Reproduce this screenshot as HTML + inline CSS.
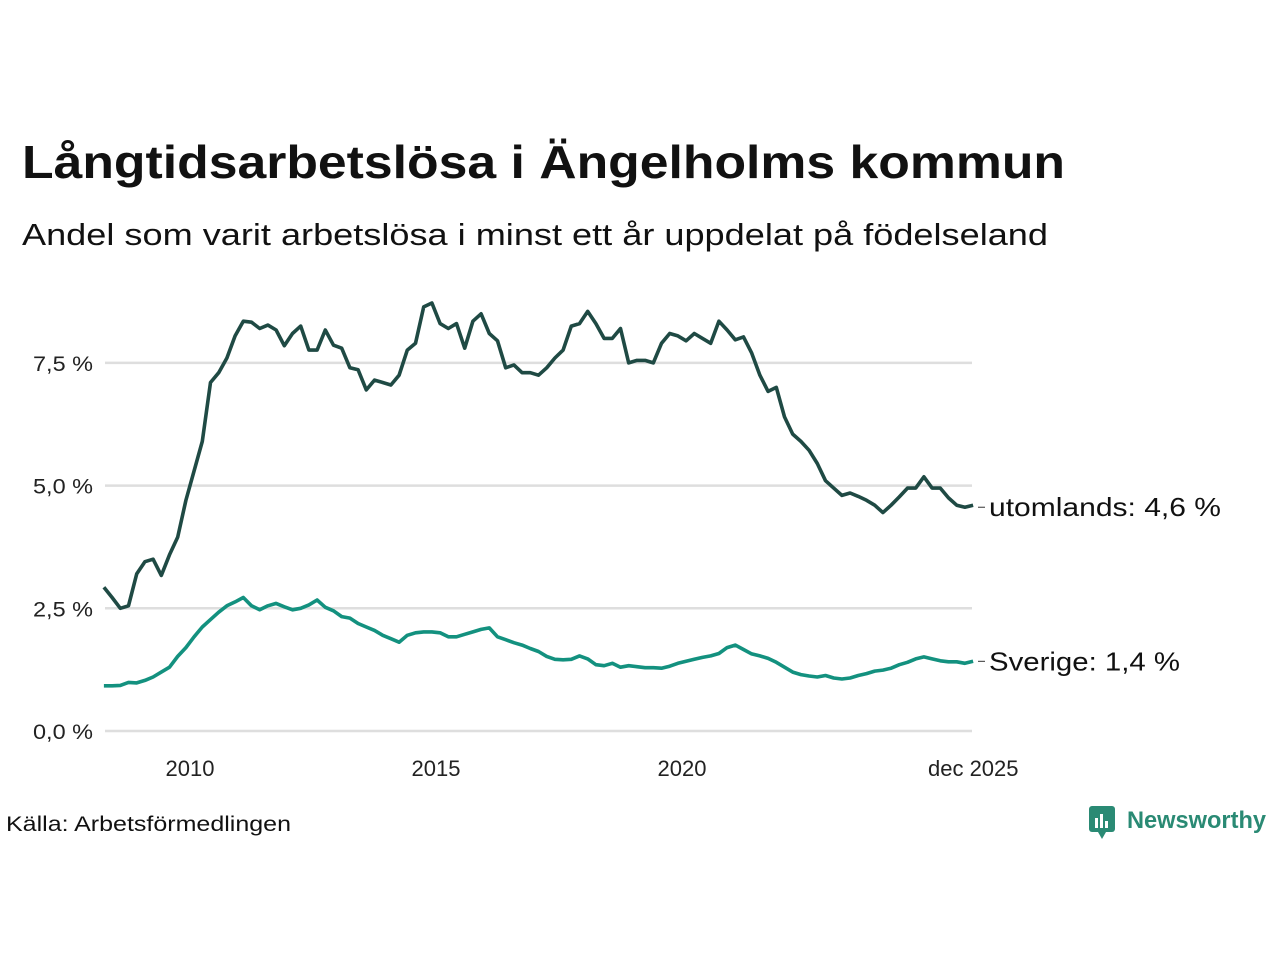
<!DOCTYPE html>
<html><head><meta charset="utf-8"><style>
body{margin:0;width:1280px;height:960px;background:#fff;font-family:"Liberation Sans",sans-serif;overflow:hidden}
</style></head><body>
<svg width="1280" height="960" font-family="Liberation Sans, DejaVu Sans, sans-serif">
<text x="22" y="178" font-size="46" font-weight="bold" fill="#111" textLength="1043" lengthAdjust="spacingAndGlyphs">Långtidsarbetslösa i Ängelholms kommun</text>
<text x="22" y="245" font-size="31" fill="#111" textLength="1026" lengthAdjust="spacingAndGlyphs">Andel som varit arbetslösa i minst ett år uppdelat på födelseland</text>
<g id="grid"></g><g id="yt"></g><g id="xt"></g><g id="lines"></g>
<text x="6" y="831" font-size="21" fill="#111" textLength="285" lengthAdjust="spacingAndGlyphs">Källa: Arbetsförmedlingen</text>
<g>
<rect x="1089" y="806" width="26" height="26" rx="3" fill="#2a8a74"/>
<polygon points="1098,832 1106,832 1102,839" fill="#2a8a74"/>
<rect x="1095" y="818" width="3" height="10" fill="#fff"/><rect x="1100" y="814" width="3" height="14" fill="#fff"/><rect x="1105" y="821" width="3" height="7" fill="#fff"/>
<text x="1127" y="828" font-size="24" font-weight="bold" fill="#2a8a74" textLength="139" lengthAdjust="spacingAndGlyphs">Newsworthy</text>
</g>
</svg>
<script>
const yTicks=[0,2.5,5,7.5];
const yTickLabels=["0,0 %","2,5 %","5,0 %","7,5 %"];
const xTicks=[2010,2015,2020,2025.92];
const xTickLabels=["2010","2015","2020","dec 2025"];
const startYear=2008.25, stepYears=2/12;
const seriesNames=["utomlands","Sverige"];
const utomlands=[2.93,2.72,2.5,2.55,3.2,3.45,3.5,3.17,3.59,3.95,4.7,5.3,5.9,7.1,7.3,7.6,8.05,8.35,8.33,8.2,8.27,8.17,7.85,8.1,8.25,7.76,7.76,8.17,7.86,7.8,7.4,7.36,6.95,7.15,7.1,7.05,7.25,7.76,7.9,8.64,8.72,8.3,8.2,8.3,7.8,8.35,8.5,8.1,7.95,7.4,7.46,7.3,7.3,7.25,7.4,7.6,7.76,8.25,8.3,8.55,8.3,8.0,8.0,8.2,7.5,7.55,7.55,7.5,7.9,8.1,8.05,7.95,8.1,8.0,7.9,8.35,8.17,7.97,8.03,7.7,7.25,6.92,7.0,6.4,6.05,5.9,5.72,5.45,5.1,4.95,4.8,4.85,4.78,4.7,4.6,4.45,4.6,4.77,4.95,4.95,5.18,4.95,4.95,4.75,4.6,4.56,4.6];
const sverige=[0.92,0.92,0.93,0.99,0.98,1.03,1.1,1.2,1.3,1.52,1.7,1.92,2.12,2.27,2.42,2.55,2.63,2.72,2.55,2.47,2.55,2.6,2.53,2.47,2.5,2.57,2.67,2.52,2.45,2.33,2.3,2.19,2.12,2.05,1.95,1.88,1.81,1.95,2.0,2.02,2.02,2.0,1.92,1.92,1.97,2.02,2.07,2.1,1.92,1.86,1.8,1.75,1.68,1.62,1.52,1.46,1.45,1.46,1.53,1.47,1.35,1.33,1.38,1.3,1.33,1.31,1.29,1.29,1.28,1.32,1.38,1.42,1.46,1.5,1.53,1.58,1.7,1.75,1.66,1.57,1.53,1.48,1.4,1.3,1.2,1.15,1.12,1.1,1.13,1.08,1.06,1.08,1.13,1.17,1.22,1.24,1.28,1.35,1.4,1.47,1.51,1.47,1.43,1.41,1.41,1.38,1.42];
const endLabels=["utomlands: 4,6 %","Sverige: 1,4 %"];
const endLabelWidths=[232,191];
const NS="http://www.w3.org/2000/svg";
const X=t=>190+(t-2010)*49.2;
const Y=v=>731-v*49.08;
function mk(tag,attrs,parent,txt){const e=document.createElementNS(NS,tag);for(const k in attrs)e.setAttribute(k,attrs[k]);if(txt!==undefined)e.textContent=txt;parent.appendChild(e);return e;}
const grid=document.getElementById('grid'),yt=document.getElementById('yt'),xt=document.getElementById('xt'),lines=document.getElementById('lines');
yTicks.forEach((v,i)=>{
 const l=mk('line',{x1:105,x2:972,y1:Y(v),y2:Y(v),stroke:'#dedede','stroke-width':2.5},grid);
 
 
 const t=mk('text',{x:93,y:Y(v)+8,'font-size':21,'text-anchor':'end',fill:'#222',textLength:60,lengthAdjust:'spacingAndGlyphs'},yt,yTickLabels[i]);
 
 
});
xTicks.forEach((v,i)=>{
 const t=mk('text',{x:X(v),y:776,'font-size':22,'text-anchor':'middle',fill:'#222'},xt,xTickLabels[i]);
 
 
});
const colors=["#1f4a44","#13917f"];
[utomlands,sverige].forEach((s,k)=>{
 const pts=s.map((v,i)=>X(startYear+i*stepYears).toFixed(1)+','+Y(v).toFixed(1)).join(' ');
 const p=mk('polyline',{points:pts,fill:'none',stroke:colors[k],'stroke-width':3.6,'stroke-linejoin':'round'},lines);
 
 
 const last=s[s.length-1];
 const ly=Y(last)+ (k===0?2:0);
 mk('line',{x1:978,x2:985,y1:ly,y2:ly,stroke:'#333','stroke-width':1},lines);
 const t=mk('text',{x:989,y:ly+9,'font-size':26,fill:'#111',textLength:endLabelWidths[k],lengthAdjust:'spacingAndGlyphs'},lines,endLabels[k]);
 
 
});
</script>
</body></html>
